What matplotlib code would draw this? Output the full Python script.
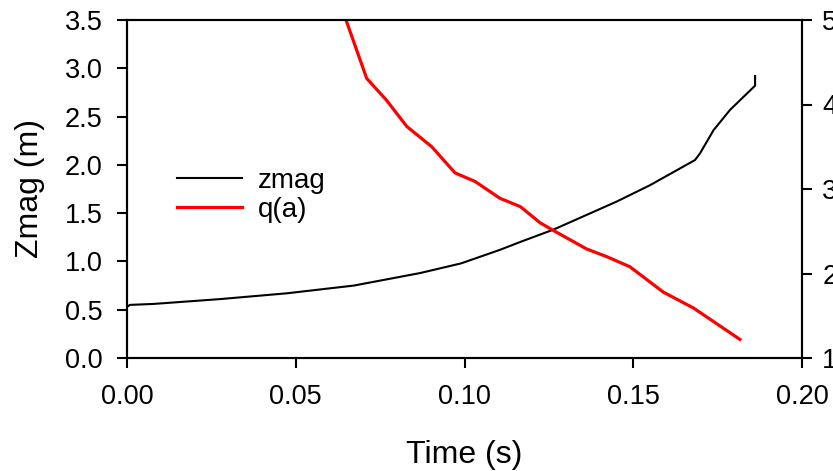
import matplotlib
matplotlib.use("Agg")
import matplotlib.pyplot as plt

plt.rcParams['font.family'] = ['Liberation Sans', 'DejaVu Sans']

# zmag series
t_z = [0.0, 0.0009, 0.0079, 0.0276, 0.0474, 0.0672, 0.0869, 0.0990, 0.1105,
       0.1164, 0.1264, 0.1451, 0.1550, 0.1683, 0.1698, 0.1738, 0.1787, 0.1861, 0.1861]
zmag = [0.53, 0.55, 0.56, 0.61, 0.67, 0.75, 0.88, 0.98, 1.12,
        1.20, 1.33, 1.62, 1.79, 2.05, 2.12, 2.36, 2.57, 2.82, 2.92]

# q(a) series
t_q = [0.0649, 0.0710, 0.0769, 0.0829, 0.0903, 0.0972, 0.1031, 0.1105, 0.1166,
       0.1224, 0.1263, 0.1362, 0.1421, 0.1490, 0.1589, 0.1679, 0.1816]
q_a = [5.0, 4.31, 4.05, 3.74, 3.50, 3.19, 3.09, 2.89, 2.79,
       2.60, 2.51, 2.29, 2.20, 2.08, 1.78, 1.59, 1.22]

x_ticks = [0.00, 0.05, 0.10, 0.15, 0.20]
x_labels = ['0.00', '0.05', '0.10', '0.15', '0.20']
y_ticks = [0.0, 0.5, 1.0, 1.5, 2.0, 2.5, 3.0, 3.5]
y2_ticks = [1, 2, 3, 4, 5]

fig = plt.figure(figsize=(8.33, 4.71), dpi=100)
ax = fig.add_axes([127/833, 1-358/471, (802-127)/833, (358-20)/471])
ax2 = ax.twinx()

l1, = ax.plot(t_z, zmag, color='black', lw=1.5, label='zmag')
l2, = ax2.plot(t_q, q_a, color='#ff0000', lw=2.3, label='q(a)')

ax.set_xlim(0, 0.20)
ax.set_ylim(0, 3.5)
ax2.set_ylim(1, 5)
ax.set_xticks(x_ticks)
ax.set_xticklabels(x_labels)
ax.set_yticks(y_ticks)
ax.set_yticklabels([f'{v:.1f}' for v in y_ticks])
ax2.set_yticks(y2_ticks)
ax2.set_yticklabels([str(v) for v in y2_ticks])

for a in (ax, ax2):
    for s in a.spines.values():
        s.set_linewidth(1.5)
    a.tick_params(direction='out', length=7.5, width=1.5, labelsize=19.5)
ax.tick_params(axis='y', pad=10)
ax.tick_params(axis='x', pad=11)
ax2.tick_params(axis='y', pad=7)

ax.set_xlabel('Time (s)', fontsize=23, labelpad=22)
ax.set_ylabel('Zmag (m)', fontsize=23, labelpad=14)

ax.legend(handles=[l1, l2], loc='upper left',
          bbox_to_anchor=(177/833, 1-168/471), bbox_transform=fig.transFigure,
          frameon=False, fontsize=20, handlelength=2.35, handletextpad=0.55,
          labelspacing=0.1, borderpad=0, borderaxespad=0)

fig.savefig('out.png', dpi=100)
